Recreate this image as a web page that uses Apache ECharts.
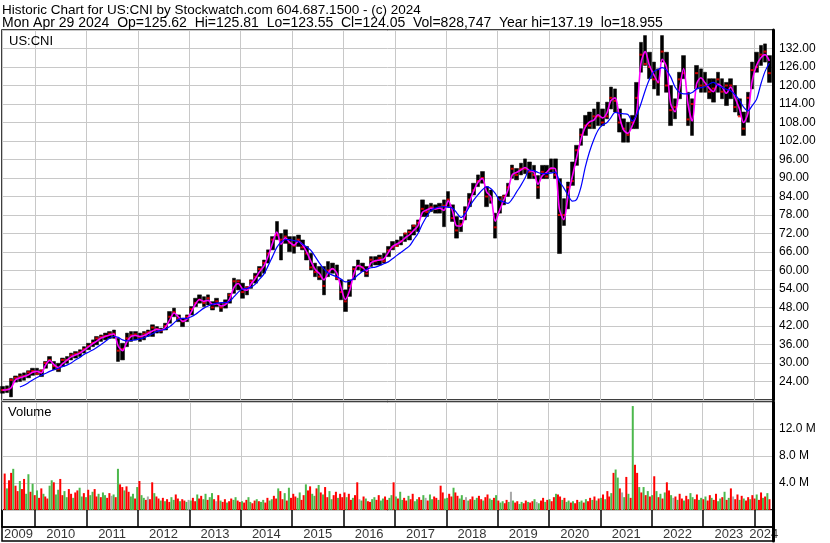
<!DOCTYPE html>
<html>
<head>
<meta charset="utf-8">
<script src="https://cdn.jsdelivr.net/npm/echarts@6/dist/echarts.min.js"></script>
<style>
html, body { margin: 0; padding: 0; background: #fff; }
#chart { width: 830px; height: 543px; }
</style>
</head>
<body>
<div id="chart"></div>
<script>
// monthly values, May 2009 .. Apr 2024
const startYear = 2009, startMonth = 5;
const lo = [
  20.2, 20.4, 19.0, 23.8, 24.0, 24.4, 25.2, 26.0,
  26.2, 25.6, 28.3, 29.9, 27.8, 27.2, 28.9, 29.9, 31.0, 31.6, 32.1, 33.2,
  34.3, 35.3, 35.9, 37.0, 37.5, 38.0, 38.0, 30.5, 31.0, 35.3, 37.0, 37.5,
  37.0, 37.5, 38.6, 38.6, 39.7, 39.7, 40.7, 42.9, 45.0, 43.4, 41.8, 43.4,
  45.6, 48.3, 49.4, 48.3, 48.8, 47.2, 48.3, 46.7, 47.8, 49.4, 52.6, 53.7,
  51.0, 52.1, 54.2, 55.9, 58.0, 59.1, 62.4, 66.7, 70.0, 63.4, 68.8, 66.1,
  65.6, 67.8, 66.7, 63.4, 60.2, 58.0, 57.0, 52.1, 58.0, 59.1, 57.0, 50.5,
  46.7, 51.6, 57.0, 60.2, 59.7, 58.0, 61.3, 61.8, 61.8, 62.4, 64.5, 66.7,
  67.8, 68.3, 69.4, 69.9, 71.5, 72.6, 77.5, 77.5, 79.1, 78.6, 78.6, 74.2,
  80.7, 75.9, 70.5, 72.6, 76.4, 80.7, 84.5, 87.2, 88.3, 80.7, 81.8, 70.5,
  78.6, 81.3, 84.0, 89.9, 89.4, 91.0, 91.4, 89.8, 89.8, 83.3, 89.8, 89.8,
  91.9, 89.8, 65.5, 74.6, 80.0, 87.6, 94.1, 100.6, 103.8, 106.0, 106.0, 107.0,
  107.0, 109.2, 112.4, 111.4, 104.9, 101.6, 101.6, 106.0, 106.0, 124.3, 126.5, 122.2,
  118.9, 116.8, 127.6, 117.8, 107.0, 109.2, 115.7, 122.2, 107.0, 103.8, 118.9, 117.8,
  117.8, 115.7, 114.6, 117.8, 115.7, 113.5, 115.7, 111.4, 110.3, 103.8, 108.1, 118.9,
  124.3, 126.5, 127.6, 121.0
];
const hi = [
  22.4, 22.6, 25.0, 25.8, 26.5, 26.8, 27.5, 28.3,
  28.3, 27.8, 30.5, 32.1, 30.5, 29.9, 31.6, 32.1, 33.2, 33.7, 34.3, 35.3,
  36.4, 37.5, 38.6, 39.1, 39.7, 40.2, 40.7, 38.0, 36.4, 39.7, 40.2, 40.2,
  39.7, 40.2, 40.7, 42.4, 41.8, 41.3, 42.9, 46.7, 47.8, 45.6, 44.5, 45.6,
  48.3, 51.0, 52.1, 51.5, 52.1, 49.9, 51.0, 49.4, 50.5, 52.6, 57.5, 57.0,
  55.9, 54.8, 57.0, 59.1, 61.3, 63.4, 66.7, 71.0, 75.9, 72.0, 73.2, 71.0,
  71.0, 71.5, 69.9, 67.8, 65.6, 62.4, 61.3, 61.3, 62.9, 62.4, 61.8, 57.0,
  53.7, 57.0, 61.3, 63.4, 62.4, 61.3, 64.5, 64.5, 65.0, 65.6, 67.8, 69.4,
  69.9, 71.0, 72.1, 73.2, 74.8, 76.4, 82.9, 81.3, 81.8, 81.3, 81.8, 82.9,
  85.6, 81.3, 77.5, 76.4, 80.7, 85.0, 88.3, 91.0, 92.1, 87.2, 86.1, 78.6,
  84.0, 84.5, 88.3, 94.2, 93.1, 94.8, 96.2, 95.2, 94.1, 90.8, 94.1, 94.1,
  96.2, 96.2, 89.8, 83.3, 88.7, 95.2, 100.6, 106.0, 110.3, 111.4, 112.4, 114.6,
  112.4, 114.6, 119.5, 118.9, 112.4, 109.2, 108.1, 110.3, 121.0, 134.0, 136.2, 130.8,
  127.6, 125.4, 136.2, 130.8, 120.0, 115.7, 124.3, 129.7, 117.8, 115.7, 126.5, 125.4,
  124.3, 122.2, 122.2, 124.3, 122.2, 121.0, 122.2, 120.0, 115.7, 111.4, 117.8, 127.6,
  130.8, 133.0, 133.5, 129.7
];
const cl = [
  21.2, 21.4, 24.5, 25.2, 25.6, 25.8, 27.0, 27.4,
  26.5, 27.5, 30.0, 31.0, 29.0, 28.0, 31.0, 31.0, 32.5, 33.0, 33.5, 34.5,
  35.5, 36.5, 38.0, 38.5, 38.8, 39.5, 39.5, 34.0, 34.5, 38.0, 39.0, 39.3,
  38.5, 39.5, 40.0, 41.5, 41.0, 40.5, 42.0, 45.0, 46.5, 44.5, 43.5, 45.0,
  47.5, 49.5, 50.5, 49.5, 51.0, 48.0, 50.0, 48.0, 49.5, 52.0, 56.5, 56.5,
  53.0, 54.5, 56.5, 58.0, 60.5, 62.5, 65.5, 70.0, 71.5, 70.0, 71.0, 69.0,
  68.0, 70.0, 67.5, 65.5, 61.0, 59.5, 58.0, 55.0, 60.0, 60.5, 57.5, 53.0,
  50.0, 55.0, 60.5, 61.5, 61.0, 59.0, 63.5, 63.0, 64.0, 63.0, 66.5, 67.5,
  68.0, 69.5, 72.0, 72.5, 74.5, 75.5, 80.0, 79.0, 80.5, 80.0, 80.5, 81.0,
  83.0, 77.0, 73.0, 75.0, 79.0, 83.0, 86.0, 89.0, 90.0, 84.0, 83.0, 74.0,
  83.0, 84.0, 87.0, 93.0, 91.0, 93.0, 93.0, 92.0, 91.0, 87.0, 92.0, 90.5,
  93.0, 91.0, 78.0, 78.0, 87.0, 89.0, 99.0, 104.0, 107.0, 107.0, 110.0, 110.0,
  108.0, 110.0, 116.0, 115.0, 108.0, 106.0, 104.0, 108.0, 116.0, 130.0, 127.0, 126.0,
  122.0, 121.0, 131.0, 120.0, 112.0, 113.0, 122.0, 124.0, 109.0, 114.0, 124.0, 120.0,
  120.0, 118.0, 119.0, 122.0, 118.0, 120.0, 120.0, 113.0, 110.0, 106.0, 116.0, 125.0,
  126.0, 130.0, 131.0, 124.0
];
// magenta (short) and blue (long) moving averages
const maFast = [
  21.2, 21.3, 22.0, 24.6, 25.2, 25.6, 26.2, 27.0,
  27.3, 26.8, 29.2, 30.8, 29.5, 28.5, 29.8, 30.9, 32.0, 32.6, 33.2, 34.2,
  35.2, 36.3, 37.1, 38.1, 38.6, 39.1, 39.4, 35.5, 34.0, 36.8, 38.6, 38.9,
  38.6, 38.9, 39.6, 40.4, 40.9, 40.6, 41.5, 44.0, 46.2, 45.0, 43.5, 44.2,
  46.6, 49.2, 50.6, 50.0, 50.3, 49.0, 49.2, 48.5, 48.9, 50.8, 54.5, 55.8,
  54.0, 53.6, 55.6, 57.4, 59.6, 61.4, 64.6, 68.8, 72.5, 68.5, 70.6, 69.2,
  68.2, 69.5, 68.4, 66.0, 63.0, 60.3, 59.0, 57.0, 59.2, 60.6, 59.2, 54.5,
  50.6, 53.6, 58.8, 61.6, 61.0, 59.8, 62.5, 63.2, 63.4, 63.8, 65.8, 67.8,
  68.6, 69.4, 70.6, 71.6, 73.0, 74.6, 78.8, 79.6, 80.2, 80.0, 80.2, 79.5,
  82.6, 79.2, 74.5, 74.4, 78.0, 82.2, 85.8, 88.6, 89.8, 85.5, 83.8, 76.0,
  79.5, 83.0, 86.0, 91.0, 91.8, 92.6, 93.4, 92.4, 92.0, 88.0, 90.8, 91.8,
  93.2, 93.0, 80.0, 76.5, 84.0, 90.5, 96.5, 102.5, 106.5, 108.2, 108.8, 110.5,
  109.5, 111.0, 115.0, 116.0, 110.0, 105.5, 104.5, 107.0, 111.0, 127.0, 131.0, 126.5,
  123.5, 121.0, 128.5, 126.0, 114.0, 111.5, 118.5, 125.5, 114.0, 108.5, 120.5, 122.5,
  120.8, 119.0, 118.0, 120.5, 119.5, 117.5, 119.5, 116.0, 112.5, 108.0, 111.0, 121.5,
  126.5, 129.0, 130.0, 128.0
];
const maSlow = [
  null, null, null, null, 22.2, 22.8, 23.6, 24.5,
  25.3, 26.0, 26.6, 27.3, 27.8, 28.3, 28.8, 29.3, 30.0, 31.0, 31.8, 32.8,
  33.5, 34.2, 35.0, 36.0, 37.0, 38.0, 38.6, 38.3, 37.5, 37.2, 37.3, 37.5,
  37.8, 38.2, 38.8, 39.5, 40.2, 40.6, 41.0, 41.8, 43.0, 44.2, 44.5, 44.5,
  45.0, 45.8, 46.8, 47.8, 48.5, 49.0, 49.4, 49.6, 49.6, 50.0, 51.5, 53.0,
  54.0, 54.2, 54.6, 55.6, 57.2, 58.8, 61.5, 64.5, 67.5, 69.2, 70.0, 70.0,
  69.7, 69.4, 68.6, 67.6, 66.5, 64.5, 62.4, 60.5, 59.2, 58.5, 58.0, 57.2,
  56.3, 56.6, 57.4, 58.6, 59.7, 60.4, 60.9, 61.1, 61.6, 62.2, 62.8, 63.8,
  64.9, 65.9, 66.9, 68.0, 70.0, 72.1, 75.0, 77.5, 79.5, 80.2, 80.6, 80.7,
  80.5, 80.2, 78.8, 77.2, 78.4, 80.7, 82.8, 84.6, 86.2, 87.2, 86.5, 85.0,
  82.8, 82.2, 81.8, 83.2, 85.4, 87.6, 90.0, 92.6, 92.4, 91.8, 91.4, 91.4,
  91.6, 91.9, 89.0, 86.8, 84.5, 82.5, 83.0, 87.0, 93.5, 98.5, 102.5, 105.5,
  107.2, 107.9, 109.5, 111.3, 111.0, 110.8, 110.6, 108.5, 110.5, 114.0, 118.4, 122.0,
  124.5, 125.2, 125.8, 125.0, 122.8, 119.5, 117.8, 117.3, 117.3, 117.7, 118.9, 119.3,
  119.6, 120.5, 121.0, 120.0, 119.4, 118.8, 118.3, 117.0, 115.3, 113.0, 111.8, 113.5,
  115.5, 120.5, 124.5, 127.3
];

// volume in millions, half-month slots from late May 2009
const volume = [
  5.4, 3.2, 4.4, 5.5, 6.1, 3.6, 2.8, 4.3, 3.1, 4.6, 2.4, 5.3, 2.7, 3.9, 2.2,
  2.9, 1.8, 3.2, 2.4, 2.0, 1.7, 3.6, 4.4, 4.1, 2.3, 3.0, 4.6, 2.2, 2.8, 1.9, 3.1, 2.4, 1.8, 2.6, 2.9, 3.3, 2.0, 2.5, 1.9,
  3.0, 2.2, 2.7, 3.1, 2.0, 2.4, 1.9, 2.6, 2.2, 1.8, 2.5, 2.1, 2.3, 1.9, 6.1, 3.8, 3.4, 2.9, 3.5, 2.7, 2.0, 2.4, 1.7, 3.4,
  4.3, 2.2, 1.8, 1.5, 2.0, 1.6, 4.1, 2.5, 2.0, 1.7, 1.4, 1.8, 1.3, 1.6, 1.2, 1.9, 1.5, 2.3, 1.7, 1.3, 1.6, 1.4, 1.2, 1.5,
  1.4, 1.8, 1.3, 2.3, 1.7, 2.1, 1.6, 2.4, 1.5, 1.9, 2.5, 1.6, 1.3, 2.2, 1.4, 1.2, 1.6, 1.1, 1.3, 1.7, 1.5, 1.9, 1.4, 1.2,
  1.3, 1.1, 1.5, 1.9, 1.2, 1.0, 1.4, 1.6, 1.3, 1.2, 1.5, 1.1, 1.8, 1.4, 1.6, 2.1, 1.7, 3.2, 2.8, 1.6, 2.5, 1.4, 3.3, 1.8,
  2.4, 2.0, 1.8, 2.6, 1.5, 2.2, 3.8, 2.9, 3.5, 2.4, 2.1, 3.2, 3.7, 2.6, 2.3, 3.4, 1.9, 2.8, 1.6, 2.2, 2.7, 1.8, 2.4, 1.9,
  2.6, 1.9, 2.4, 1.5, 1.8, 2.2, 4.1, 1.6, 1.4, 2.0, 1.7, 1.3, 1.2, 1.6, 1.9, 1.5, 2.2, 1.4, 1.7, 2.0, 1.5, 1.8, 2.2, 4.1,
  2.0, 1.7, 2.7, 1.5, 1.8, 1.4, 2.1, 1.6, 2.4, 1.3, 1.6, 1.9, 1.5, 2.2, 1.8, 1.4, 2.3, 1.6, 2.0, 1.8, 1.5, 3.6, 2.6, 1.7,
  1.8, 2.4, 2.0, 3.3, 2.6, 2.1, 1.7, 2.2, 1.5, 1.9, 1.4, 1.6, 2.0, 1.5, 1.8, 2.1, 1.6, 1.4, 1.9, 2.3, 1.7, 1.5, 1.8, 2.2,
  1.4, 1.1, 1.3, 1.0, 1.5, 1.2, 2.7, 1.4, 1.1, 1.3, 0.9, 1.2, 1.0, 1.4, 1.2, 1.1, 1.3, 1.6, 1.2, 1.0, 1.4, 1.8, 1.2, 1.5,
  1.6, 1.3, 1.9, 2.4, 2.3, 2.0, 1.5, 1.8, 1.2, 1.4, 1.1, 1.3, 1.0, 1.5, 1.2, 1.4, 1.1, 1.6, 1.3, 1.8, 1.5, 2.0, 1.4, 1.7,
  1.8, 2.3, 1.6, 2.8, 2.0, 2.5, 5.5, 6.0, 4.8, 3.2, 2.6, 1.9, 4.9, 2.4, 1.8, 15.4, 6.7, 5.5, 3.4, 2.6, 3.4, 2.2, 2.8, 2.0,
  2.2, 5.0, 2.8, 1.9, 2.4, 1.7, 2.6, 4.1, 2.9, 2.2, 1.8, 2.0, 1.5, 2.4, 1.7, 1.4, 2.1, 1.6, 2.5, 1.9, 1.6, 2.3, 1.5, 1.8,
  1.6, 2.0, 1.4, 2.2, 1.8, 1.5, 2.4, 1.3, 1.7, 1.9, 2.7, 1.5, 1.8, 3.2, 2.0, 1.6, 2.3, 1.5, 2.1, 1.7, 1.4, 1.9, 1.6, 2.2,
  1.7, 2.3, 1.5, 2.6, 1.8, 2.0, 2.5, 1.6
];
// u = up, d = down, n = unchanged, one string per year
const volDir = [
  'dudduddudduudud',
  'uddudduuduudduuddudduudu',
  'duudduduuddnududdudduudu',
  'duudndduddududduudduddun',
  'uddudduuduudnduddudduudd',
  'udduudduduudduudduddudud',
  'dduuddudduudududduuddudd',
  'dudduddnududduudduudduud',
  'uduuddudduuddunduudduddu',
  'uddudduudnudduuddudduudu',
  'duuddunudduudduddunuddud',
  'uddudduduududduududdudud',
  'ududduduudnudududdududud',
  'ududududdunduddudduudduu',
  'duddudduudududnddududdud',
  'duddudud'
].join('').split('');

const years = ['2009', '2010', '2011', '2012', '2013', '2014', '2015', '2016',
  '2017', '2018', '2019', '2020', '2021', '2022', '2023', '2024'];
const priceMin = 18, priceMax = 138, priceStep = 6;
const volMax = 16, volStep = 4;
const axisStart = +new Date('2009-05-11');
const axisEnd = +new Date('2024-05-11');

function pad(n) { return n < 10 ? '0' + n : '' + n; }
const dates = cl.map((v, i) => {
  const m = startMonth - 1 + i;
  return (startYear + Math.floor(m / 12)) + '-' + pad(m % 12 + 1) + '-15';
});
const volDates = volume.map((v, k) => {
  const h = (startMonth - 1) * 2 + 1 + k;
  return (startYear + Math.floor(h / 24)) + '-' + pad(Math.floor((h % 24) / 2) + 1) + (h % 2 ? '-23' : '-08');
});

// each month drawn as a block from its low to its high
const candles = cl.map((c, i) => [dates[i], lo[i], hi[i], lo[i], hi[i]]);
const volColors = { u: '#4cb84c', d: '#ff0000', n: '#a8a8a8' };
const volData = volume.map((v, k) => ({
  value: [volDates[k], v],
  itemStyle: { color: volColors[volDir[k] || 'u'] }
}));
const yearLabels = years.map(y => {
  const a = Math.max(axisStart, +new Date(y + '-01-01'));
  const b = Math.min(axisEnd, +new Date((+y + 1) + '-01-01'));
  return [(a + b) / 2, 0.5, y];
});

const gridLine = { show: true, lineStyle: { color: '#c8c8c8', width: 1 } };
const timeAxis = (gridIndex, split) => ({
  type: 'time', gridIndex, min: axisStart, max: axisEnd,
  splitNumber: 15,
  minInterval: 365 * 86400000,
  maxInterval: 366 * 86400000,
  axisLine: { show: false }, axisTick: { show: false }, axisLabel: { show: false },
  splitLine: split
});
const plainTitle = (text, left, top, size) => ({
  text, left, top, padding: 0,
  textStyle: { fontSize: size, fontWeight: 'normal', color: '#000' }
});

const chart = echarts.init(document.getElementById('chart'), null, { renderer: 'canvas' });
chart.setOption({
  animation: false,
  backgroundColor: '#fff',
  textStyle: { fontFamily: 'Liberation Sans, Arial, sans-serif' },
  title: [
    plainTitle('Historic Chart for US:CNI by Stockwatch.com 604.687.1500 - (c) 2024', 2, 3, 13.5),
    plainTitle('Mon Apr 29 2024  Op=125.62  Hi=125.81  Lo=123.55  Cl=124.05  Vol=828,747  Year hi=137.19  lo=18.955', 2, 16, 14),
    plainTitle('US:CNI', 9, 35, 13),
    plainTitle('Volume', 8, 406, 13)
  ],
  grid: [
    { left: 2, right: 57, top: 30, height: 370, show: true, borderColor: '#000', borderWidth: 1.5 },
    { left: 2, right: 57, top: 402, height: 108, show: true, borderColor: '#000', borderWidth: 1.5 },
    { left: 2, right: 57, top: 510, height: 17, show: true, borderColor: '#000', borderWidth: 1.5 },
    { left: 2, right: 57, top: 527, height: 14, show: true, borderColor: '#000', borderWidth: 1.5 }
  ],
  xAxis: [
    timeAxis(0, gridLine),
    timeAxis(1, gridLine),
    timeAxis(2, { show: true, lineStyle: { color: '#000', width: 1.5 } }),
    timeAxis(3, { show: false })
  ],
  yAxis: [
    {
      type: 'value', gridIndex: 0, position: 'right',
      min: priceMin, max: priceMax, interval: priceStep,
      axisLine: { show: true, lineStyle: { color: '#000', width: 3 } },
      axisTick: { show: false },
      axisLabel: {
        color: '#000', fontSize: 12, margin: 6,
        showMinLabel: false, showMaxLabel: false,
        formatter: v => v.toFixed(2)
      },
      splitLine: gridLine
    },
    {
      type: 'value', gridIndex: 1, position: 'right',
      min: 0, max: volMax, interval: volStep,
      axisLine: { show: true, lineStyle: { color: '#000', width: 3 } },
      axisTick: { show: false },
      axisLabel: {
        color: '#000', fontSize: 12, margin: 6,
        showMinLabel: false, showMaxLabel: false,
        formatter: v => v.toFixed(1) + ' M'
      },
      splitLine: gridLine
    },
    {
      type: 'value', gridIndex: 2, position: 'right', min: 0, max: 1,
      axisLine: { show: true, lineStyle: { color: '#000', width: 3 } },
      axisTick: { show: false }, axisLabel: { show: false }, splitLine: { show: false }
    },
    {
      type: 'value', gridIndex: 3, position: 'right', min: 0, max: 1,
      axisLine: { show: true, lineStyle: { color: '#000', width: 3 } },
      axisTick: { show: false }, axisLabel: { show: false }, splitLine: { show: false }
    }
  ],
  series: [
    {
      name: 'price', type: 'candlestick', xAxisIndex: 0, yAxisIndex: 0,
      encode: { x: 0, y: [1, 2, 3, 4] },
      barWidth: 4,
      itemStyle: { color: '#000', color0: '#000', borderColor: '#000', borderColor0: '#000', borderWidth: 0.5 },
      data: candles
    },
    {
      name: 'close', type: 'scatter', xAxisIndex: 0, yAxisIndex: 0,
      symbol: 'rect', symbolSize: [3, 2],
      itemStyle: { color: '#ff0000' },
      data: cl.map((c, i) => [dates[i], c])
    },
    {
      name: 'ma fast', type: 'line', xAxisIndex: 0, yAxisIndex: 0,
      showSymbol: false, smooth: 0.3,
      lineStyle: { color: '#ff00ff', width: 1.6 },
      data: maFast.map((v, i) => [dates[i], v])
    },
    {
      name: 'ma slow', type: 'line', xAxisIndex: 0, yAxisIndex: 0,
      showSymbol: false, smooth: 0.3,
      lineStyle: { color: '#0000ff', width: 1.2 },
      data: maSlow.map((v, i) => [dates[i], v])
    },
    {
      name: 'volume', type: 'bar', xAxisIndex: 1, yAxisIndex: 1,
      barWidth: 2,
      data: volData
    },
    {
      name: 'years', type: 'scatter', xAxisIndex: 3, yAxisIndex: 3,
      symbolSize: 0, silent: true,
      label: {
        show: true, position: 'inside', color: '#000', fontSize: 13,
        formatter: p => p.data[2]
      },
      data: yearLabels
    }
  ]
});
</script>
</body>
</html>
